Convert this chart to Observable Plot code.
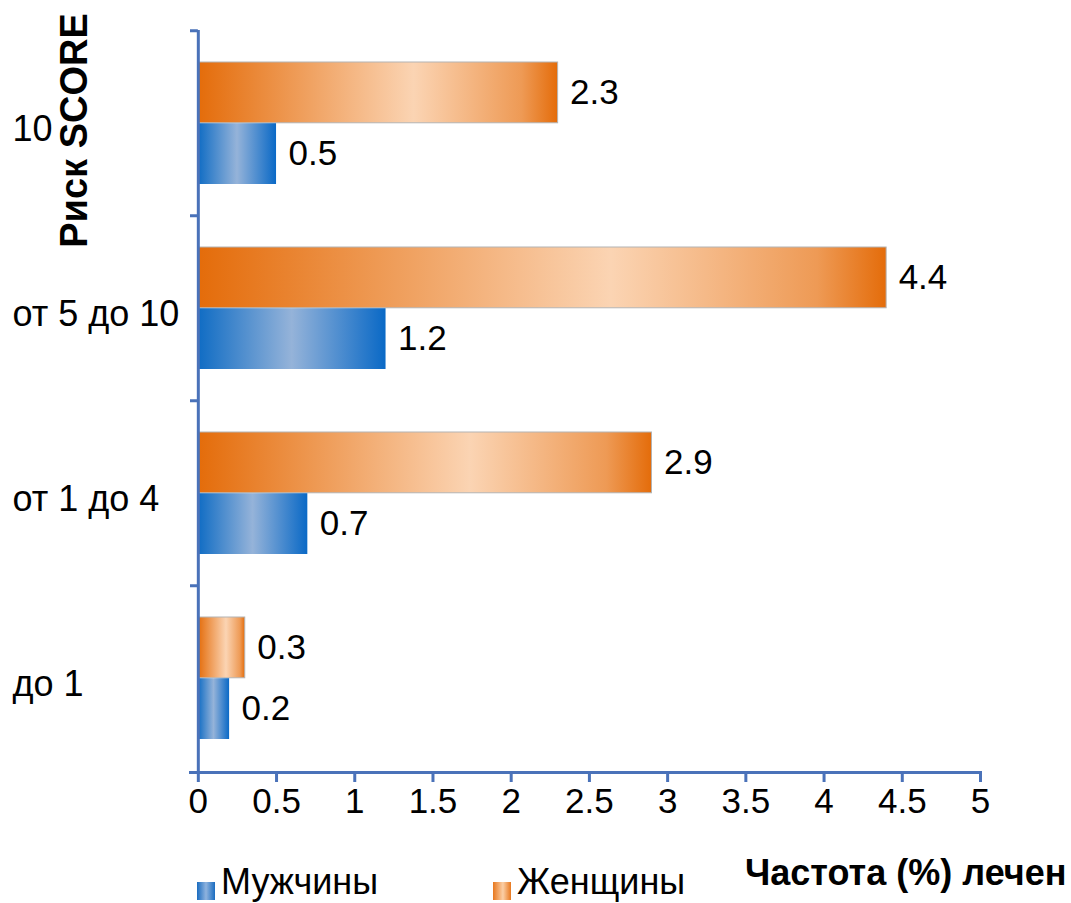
<!DOCTYPE html>
<html>
<head>
<meta charset="utf-8">
<script src="https://cdn.jsdelivr.net/npm/d3@7"></script>
<script src="https://cdn.jsdelivr.net/npm/@observablehq/plot@0.6"></script>
<style>
  body { margin: 0; background: #fff; font-family: Arial, "Liberation Sans", sans-serif; }
  #wrap { position: relative; width: 1071px; height: 903px; overflow: hidden; background: #fff; }
  #legend { position: absolute; left: 0; top: 850px; width: 1071px; height: 53px; }
  .key { position: absolute; width: 18px; height: 18px; top: 32px; }
  .lbl { position: absolute; top: 14px; font-size: 36px; line-height: 36px; color: #000; white-space: nowrap; }
  .xtitle { position: absolute; left: 745px; top: 5px; font-size: 36px; line-height: 36px; font-weight: bold; color: #000; white-space: nowrap; }
</style>
</head>
<body>
<div id="wrap">
  <div id="chart"></div>
  <div id="legend"></div>
</div>
<script>
// Risk groups (top to bottom) and treatment frequency, %
const categories = ["10", "от 5 до 10", "от 1 до 4", "до 1"];
const series = ["Мужчины", "Женщины"];
const men = [0.5, 1.2, 0.7, 0.2];
const women = [2.3, 4.4, 2.9, 0.3];
const xTicks = [0, 0.5, 1, 1.5, 2, 2.5, 3, 3.5, 4, 4.5, 5];
const yTitle = "Риск SCORE";
const xTitle = "Частота (%) лечен";

const rows = categories.map((c, i) => ({category: c, men: men[i], women: women[i]}));

const W = 1071, H = 850;
const mTop = 30, mBottom = 78, mLeft = 190, mRight = 91;
const padInner = 0.34;
const step = (H - mTop - mBottom) / categories.length;
const bw = step * (1 - padInner);
const axisColor = "#4a72b9";
const font = "Arial, 'Liberation Sans', sans-serif";

const svg = Plot.plot({
  width: W,
  height: H,
  marginTop: mTop,
  marginBottom: mBottom,
  marginLeft: mLeft,
  marginRight: mRight,
  style: {fontFamily: font, background: "#fff", color: "#000"},
  x: {domain: [-0.05, 5], label: null},
  y: {domain: categories, paddingInner: padInner, paddingOuter: padInner / 2, label: null},
  marks: [
    // women on the upper half of each band, men on the lower half
    Plot.barX(rows, {x: "women", y: "category", fill: "url(#gradWomen)", stroke: "#b4b4b4", strokeWidth: 1, insetBottom: bw / 2}),
    Plot.barX(rows, {x: "men", y: "category", fill: "url(#gradMen)", insetTop: bw / 2}),
    Plot.text(rows, {x: "women", y: "category", text: d => String(d.women), textAnchor: "start", dx: 12, dy: -bw / 4, fontSize: 35, fill: "#000"}),
    Plot.text(rows, {x: "men", y: "category", text: d => String(d.men), textAnchor: "start", dx: 12, dy: bw / 4, fontSize: 35, fill: "#000"}),
    // value axis line and category boundary ticks
    Plot.ruleX([0], {stroke: axisColor, strokeWidth: 3}),
    Plot.ruleY(categories, {y: d => d, x1: -0.05, x2: 0, dy: -step / 2, stroke: axisColor, strokeWidth: 3}),
    Plot.frame({anchor: "bottom", stroke: axisColor, strokeWidth: 3}),
    Plot.axisX({ticks: xTicks, tickFormat: d => String(d), tickSize: 10, tickPadding: 6, stroke: axisColor, strokeWidth: 3, fontSize: 35, fill: "#000", label: null}),
    Plot.axisY({tickSize: 0, tickPadding: 0, textAnchor: "start", dx: 12 - mLeft, dy: 6, fontSize: 36, fill: "#000", label: null}),
    Plot.text([yTitle], {frameAnchor: "top-left", dx: 74 - mLeft, dy: 130 - mTop, rotate: -90, textAnchor: "middle", lineAnchor: "middle", fontWeight: "bold", fontSize: 38, fill: "#000"})
  ]
});

// horizontal gradients for the bar fills
const defs = d3.select(svg).insert("defs", ":first-child");
function gradient(id, stops) {
  const g = defs.append("linearGradient").attr("id", id)
    .attr("x1", 0).attr("y1", 0).attr("x2", 1).attr("y2", 0);
  stops.forEach(([o, c]) => g.append("stop").attr("offset", o).attr("stop-color", c));
}
gradient("gradMen", [[0, "#0f6cc4"], [0.5, "#95b3d9"], [1, "#0a69c6"]]);
gradient("gradWomen", [[0, "#e46c0a"], [0.6, "#fbd4b3"], [0.9, "#ee9a55"], [1, "#e46c0a"]]);

document.getElementById("chart").appendChild(svg);

// legend row and value-axis title below the chart
const legend = d3.select("#legend");
const keyFills = [
  "linear-gradient(to right, #1a6cc0, #8fb3de 50%, #1a6cc0)",
  "linear-gradient(to right, #e8781e, #fbcfa6 55%, #e8781e)"
];
const keyLeft = [197, 493];
series.forEach((s, i) => {
  legend.append("div").attr("class", "key").style("left", keyLeft[i] + "px").style("background", keyFills[i]);
  legend.append("div").attr("class", "lbl").style("left", (keyLeft[i] + 24) + "px").text(s);
});
legend.append("div").attr("class", "xtitle").text(xTitle);
</script>
</body>
</html>
